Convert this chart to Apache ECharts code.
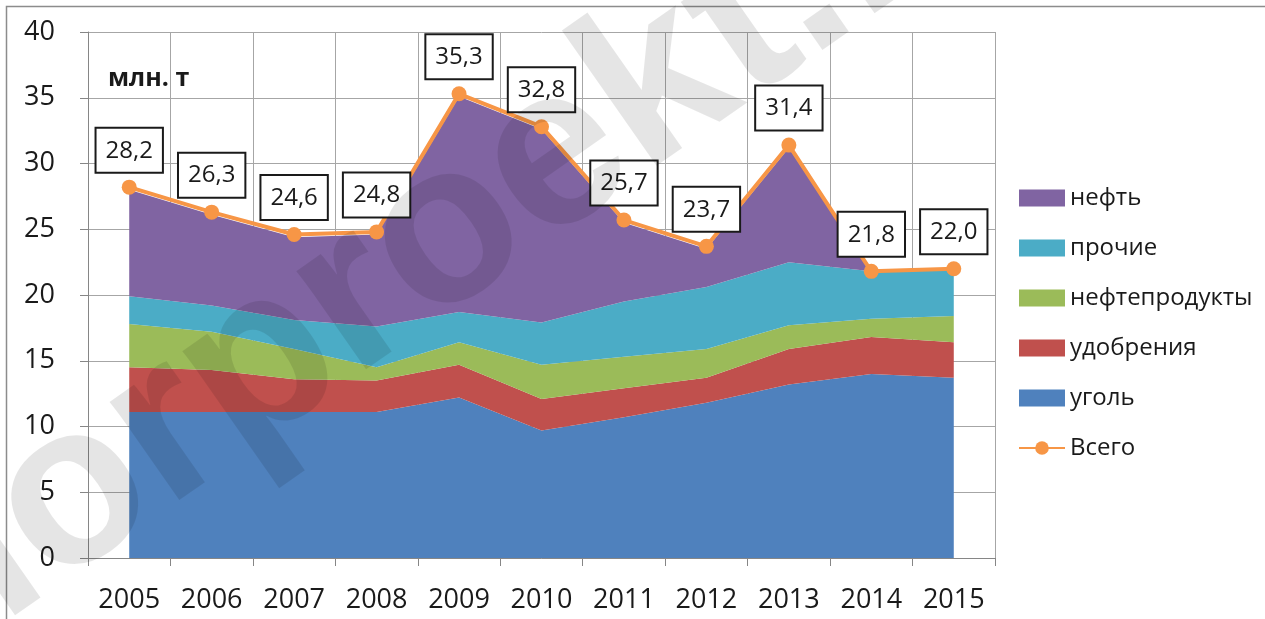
<!DOCTYPE html>
<html>
<head>
<meta charset="utf-8">
<script src="https://cdn.jsdelivr.net/npm/echarts@6/dist/echarts.min.js"></script>
<style>
html,body{margin:0;padding:0;background:#fff;}
#chart{width:1265px;height:619px;}
</style>
</head>
<body>
<div id="chart"></div>
<script>
var years=['2005','2006','2007','2008','2009','2010','2011','2012','2013','2014','2015'];
var coal=[11.1,11.1,11.1,11.1,12.2,9.7,10.7,11.8,13.2,14.0,13.7];
var fert=[3.4,3.2,2.5,2.4,2.5,2.4,2.2,1.9,2.7,2.8,2.7];
var products=[3.3,2.9,2.3,1.0,1.7,2.6,2.4,2.2,1.8,1.4,2.0];
var other=[2.1,2.0,2.2,3.1,2.3,3.2,4.2,4.7,4.8,3.6,3.6];
var oil=[8.1,6.9,6.3,7.0,16.4,14.7,6.0,2.9,8.7,0,0];
var total=[28.2,26.3,24.6,24.8,35.3,32.8,25.7,23.7,31.4,21.8,22.0];

var font='"Open Sans", sans-serif';
var myChart=echarts.init(document.getElementById('chart'));

function areaSeries(name,data,color){
	return {
		name:name,
		type:'line',
		stack:'all',
		data:data,
		color:color,
		showSymbol:false,
		symbol:'none',
		lineStyle:{width:0},
		areaStyle:{color:color,opacity:1},
		emphasis:{disabled:true}
	};
}

var option={
	animation:false,
	grid:{left:88,right:270,top:32,bottom:61,outerBoundsMode:'none'},
	legend:{
		orient:'vertical',
		left:1018,
		top:185,
		padding:0,
		itemWidth:46,
		itemHeight:17,
		itemGap:24,
		textStyle:{fontFamily:font,fontSize:24,color:'#1a1a1a',lineHeight:26},
		data:[
			{name:'нефть',icon:'rect'},
			{name:'прочие',icon:'rect'},
			{name:'нефтепродукты',icon:'rect'},
			{name:'удобрения',icon:'rect'},
			{name:'уголь',icon:'rect'},
			'Всего'
		]
	},
	xAxis:{
		type:'category',
		data:years,
		boundaryGap:true,
		axisLine:{lineStyle:{color:'#868686',width:1}},
		axisTick:{show:true,length:8,lineStyle:{color:'#868686'}},
		axisLabel:{interval:0,fontFamily:font,fontSize:27,color:'#1a1a1a',margin:29},
		splitLine:{show:true,interval:0,lineStyle:{color:'#a6a6a6',width:1}}
	},
	yAxis:{
		type:'value',
		min:0,
		max:40,
		interval:5,
		axisLine:{show:true,lineStyle:{color:'#868686',width:1}},
		axisTick:{show:true,length:8,inside:false,lineStyle:{color:'#868686'}},
		axisLabel:{fontFamily:font,fontSize:27,color:'#1a1a1a',margin:33},
		splitLine:{show:true,lineStyle:{color:'#a6a6a6',width:1}}
	},
	graphic:[
		{type:'rect',left:4,top:4,shape:{width:1300,height:700},style:{fill:'none',stroke:'#8c8c8c',lineWidth:1.5},silent:true,z:-1},
		{type:'text',left:108,top:66,style:{text:'млн. т',font:'bold 25px "Open Sans", sans-serif',fill:'#1a1a1a'},z:50},
		// watermark
		{type:'text',x:-150,y:654,rotation:35*Math.PI/180,silent:true,z:100,
			style:{text:'morproekt.ru',font:'bold 228px "Liberation Sans", sans-serif',fill:'rgba(0,0,0,0.1)',align:'left',verticalAlign:'middle'}}
	],
	series:[
		areaSeries('уголь',coal,'#4F81BD'),
		areaSeries('удобрения',fert,'#C0504D'),
		areaSeries('нефтепродукты',products,'#9BBB59'),
		areaSeries('прочие',other,'#4BACC6'),
		areaSeries('нефть',oil,'#8064A2'),
		{
			name:'Всего',
			type:'line',
			data:total,
			color:'#F79646',
			symbol:'circle',
			symbolSize:15,
			lineStyle:{width:4,color:'#F79646'},
			itemStyle:{color:'#F79646'},
			z:10,
			label:{
				show:true,
				position:'top',
				distance:8,
				fontFamily:font,
				fontSize:24,
				lineHeight:26,
				color:'#1a1a1a',
				backgroundColor:'#fff',
				borderColor:'#1a1a1a',
				borderWidth:2,
				padding:[9,9,8,9],
				formatter:function(p){return p.value.toFixed(1).replace('.',',');}
			}
		}
	]
};
myChart.setOption(option);
</script>
</body>
</html>
